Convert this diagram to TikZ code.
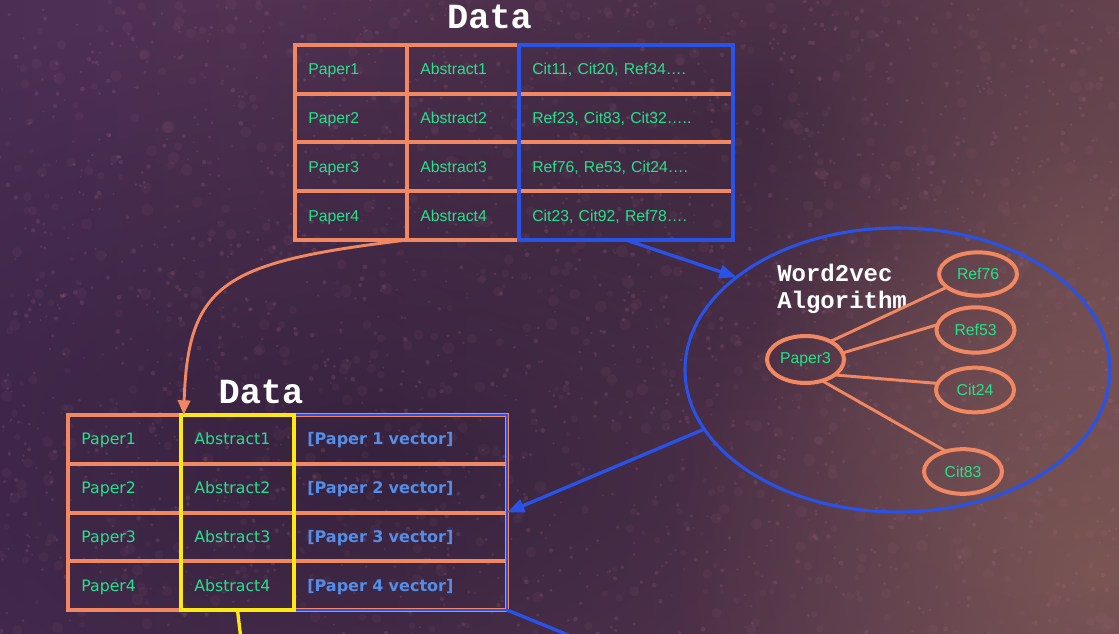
\documentclass[tikz,border=0pt]{standalone}
\usepackage{fontspec}
\setmainfont{Liberation Sans}
\newfontfamily\codefont{Liberation Mono}
\newfontfamily\verdfont{DejaVu Sans}
\usetikzlibrary{arrows.meta,fit,shapes.geometric,fadings}
\definecolor{orng}{RGB}{241,136,98}
\definecolor{grn}{RGB}{38,226,140}
\definecolor{blu}{RGB}{40,82,232}
\definecolor{vecblu}{RGB}{84,142,232}
\definecolor{yel}{RGB}{252,232,20}
\definecolor{bgL}{RGB}{76,46,84}
\definecolor{bgM}{RGB}{72,44,78}
\definecolor{bgR}{RGB}{100,64,80}
\definecolor{bgD}{RGB}{30,20,45}
\definecolor{bgW}{RGB}{140,102,88}
\definecolor{speck}{RGB}{170,112,138}
\tikzfading[name=softfade, inner color=transparent!0, outer color=transparent!100]
\begin{document}
\begin{tikzpicture}[x=0.75pt,y=-0.75pt,
  txt/.style={font=\fontsize{11.8}{14}\selectfont},
  cellA/.style={draw=orng, line width=3pt, rectangle, outer sep=0pt,
    minimum height=36.56pt, inner xsep=10pt, inner ysep=0pt, align=left,
    text height=10.2pt, text depth=2pt, text=grn, txt},
  tw1/.style={text width=64pt, minimum width=84pt},
  tw3/.style={text width=140.5pt, minimum width=160.5pt},
  bw1/.style={text width=64.75pt, minimum width=84.75pt},
  bw3/.style={text width=139.75pt, minimum width=159.75pt},
  vfont/.style={font=\verdfont\fontsize{11.8}{14}\selectfont},
  vecfont/.style={font=\verdfont\bfseries\fontsize{12}{14}\selectfont, text=vecblu},
  title/.style={font=\codefont\bfseries\fontsize{26.5}{30}\selectfont, text=white, inner sep=0pt},
  bubble/.style={ellipse, draw=orng, line width=3pt, inner sep=0pt, outer sep=0pt,
    minimum width=58.5pt, minimum height=32.5pt, text=grn, txt},
  link/.style={draw=orng, line width=2.2pt},
  bluearrow/.style={draw=blu, line width=2.5pt, -{Triangle[length=13pt,width=10pt]}},
]
\useasboundingbox (0,0) rectangle (1119,634);
\clip (0,0) rectangle (1119,634);
% background
\fill[bgM] (0,0) rectangle (1119,634);
\shade[left color=bgL, right color=bgR] (0,0) rectangle (1119,634);
\fill[bgD, fill opacity=0.55, path fading=softfade] (380,460) ellipse (760 and 460);
\fill[bgD, fill opacity=0.4, path fading=softfade] (760,110) ellipse (520 and 300);
\fill[bgW, fill opacity=0.55, path fading=softfade] (1090,570) ellipse (420 and 420);
\fill[bgW, fill opacity=0.35, path fading=softfade] (1080,230) ellipse (340 and 420);
\pgfmathsetseed{11}
\foreach \i in {1,...,900}{
  \pgfmathsetmacro\xx{rnd*1119}
  \pgfmathsetmacro\yy{rnd*634}
  \pgfmathsetmacro\rr{2+rnd*4}
  \fill[speck, fill opacity=0.08] (\xx,\yy) circle (\rr);
}
\foreach \i in {1,...,1600}{
  \pgfmathsetmacro\xx{rnd*1119}
  \pgfmathsetmacro\yy{rnd*634}
  \pgfmathsetmacro\rr{0.8+rnd*1.6}
  \fill[speck, fill opacity=0.2] (\xx,\yy) circle (\rr);
}

% top table
\node[title, anchor=base] (titleA) at (489.5,29) {Data};
\node[cellA,tw1] (t11) at (351,69.375) {Paper1};
\node[cellA,tw1] (t12) at (463,69.375) {Abstract1};
\node[cellA,tw3] (t13) at (626,69.375) {Cit11, Cit20, Ref34….};
\node[cellA,tw1] (t21) at (351,118.125) {Paper2};
\node[cellA,tw1] (t22) at (463,118.125) {Abstract2};
\node[cellA,tw3] (t23) at (626,118.125) {Ref23, Cit83, Cit32…..};
\node[cellA,tw1] (t31) at (351,166.875) {Paper3};
\node[cellA,tw1] (t32) at (463,166.875) {Abstract3};
\node[cellA,tw3] (t33) at (626,166.875) {Ref76, Re53, Cit24….};
\node[cellA,tw1] (t41) at (351,215.625) {Paper4};
\node[cellA,tw1] (t42) at (463,215.625) {Abstract4};
\node[cellA,tw3] (t43) at (626,215.625) {Cit23, Cit92, Ref78….};
\node[fit=(t13)(t43), inner sep=0pt, outer sep=0pt, draw=blu, line width=2.3pt] (tblue) {};

% bottom table
\node[title, anchor=base] (titleB) at (261,403) {Data};
\node[cellA,bw1,vfont] (b11) at (124.5,439.375) {Paper1};
\node[cellA,bw1,vfont] (b12) at (237.5,439.375) {Abstract1};
\node[cellA,bw3,vecfont] (b13) at (400.5,439.375) {[Paper 1 vector]};
\node[cellA,bw1,vfont] (b21) at (124.5,488.125) {Paper2};
\node[cellA,bw1,vfont] (b22) at (237.5,488.125) {Abstract2};
\node[cellA,bw3,vecfont] (b23) at (400.5,488.125) {[Paper 2 vector]};
\node[cellA,bw1,vfont] (b31) at (124.5,536.875) {Paper3};
\node[cellA,bw1,vfont] (b32) at (237.5,536.875) {Abstract3};
\node[cellA,bw3,vecfont] (b33) at (400.5,536.875) {[Paper 3 vector]};
\node[cellA,bw1,vfont] (b41) at (124.5,585.625) {Paper4};
\node[cellA,bw1,vfont] (b42) at (237.5,585.625) {Abstract4};
\node[cellA,bw3,vecfont] (b43) at (400.5,585.625) {[Paper 4 vector]};
\node[fit=(b13)(b43), inner sep=0pt, outer sep=0pt, draw=blu, line width=2.2pt] (bblue) {};
\node[fit=(b12)(b42), inner sep=0pt, outer sep=0pt, draw=yel, line width=2.8pt] (byel) {};

% word2vec ellipse
\node[ellipse, draw=blu, line width=2.3pt, inner sep=0pt, outer sep=0pt,
  minimum width=318.75pt, minimum height=213pt] (w2v) at (897.5,370) {};
\node[font=\codefont\bfseries\fontsize{18}{20.25}\selectfont, text=white,
  align=left, anchor=north west, inner sep=0pt] (w2vlabel) at (777,264) {Word2vec\\Algorithm};
\node[bubble, minimum width=57.75pt, minimum height=35.25pt] (p3) at (805.5,359.5) {Paper3};
\node[bubble] (r76) at (978,274) {Ref76};
\node[bubble, minimum height=34pt] (r53) at (975.5,330) {Ref53};
\node[bubble, minimum height=33.5pt] (c24) at (975,390) {Cit24};
\node[bubble, minimum height=33.5pt] (c83) at (963,471.5) {Cit83};
\draw[link] (p3.36) -- (r76.203);
\draw[link] (p3.10) -- (r53.172);
\draw[link] (p3.332) -- (c24.170);
\draw[link] (p3.308.5) -- (c83.130);

% connectors
\draw[orng, line width=2.2pt, -{Triangle[length=11pt,width=9pt]}]
  (t41.south east) .. controls (225,262) and (188,282) .. ([xshift=2pt]byel.north west);
\draw[bluearrow] (tblue.south) -- (w2v.150.5);
\draw[bluearrow] (w2v.197) -- (bblue.east);
\coordinate (offY) at (242,648);
\coordinate (offB) at (600,648);
\draw[yel, line width=2.5pt] (byel.south) -- (offY);
\draw[blu, line width=2.5pt] (bblue.south east) -- (offB);
\end{tikzpicture}
\end{document}
